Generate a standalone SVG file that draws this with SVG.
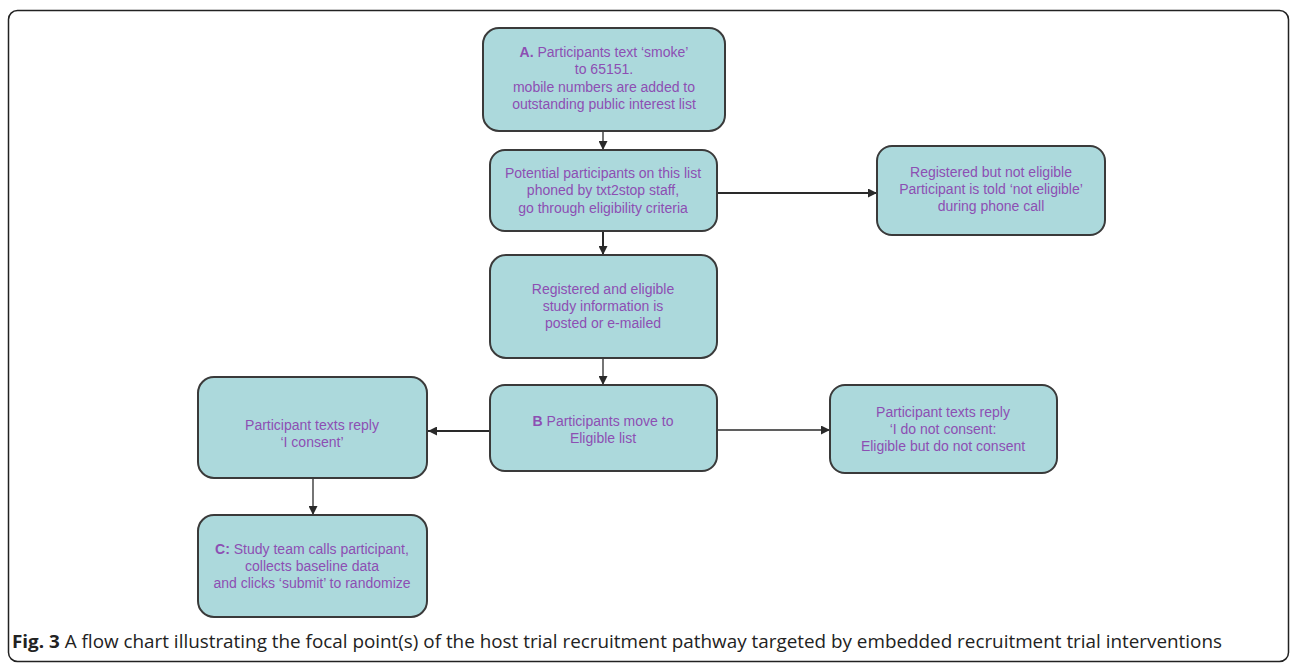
<svg xmlns="http://www.w3.org/2000/svg" width="1290" height="664" viewBox="0 0 1290 664">
<defs>
<style>
.box{fill:#acd9dc;stroke:#3a3a3a;stroke-width:2}
.t{font-family:"Liberation Sans",Arial,sans-serif;font-size:14px;fill:#8c4fb3;text-anchor:middle}
.b{font-weight:bold}
.c{stroke:#2a2a2a;fill:none}
.thin{stroke-width:1.3}
.thick{stroke-width:2}
.cap{font-family:"Open Sans","Noto Sans",sans-serif;font-size:18px;fill:#222}
</style>
<marker id="ah" viewBox="0 0 10 10" refX="10" refY="5" markerWidth="9" markerHeight="9" markerUnits="userSpaceOnUse" orient="auto">
<path d="M0,0 L10,5 L0,10 z" fill="#2a2a2a"/>
</marker>
</defs>
<rect x="0" y="0" width="1290" height="664" fill="#ffffff"/>
<rect x="8.5" y="10.5" width="1280" height="651" rx="9" fill="none" stroke="#222" stroke-width="1.5"/>

<g id="connectors">
<line class="c thin" x1="603" y1="131" x2="603" y2="150" marker-end="url(#ah)"/>
<line class="c thick" x1="717" y1="193" x2="877" y2="193" marker-end="url(#ah)"/>
<line class="c thick" x1="603" y1="231" x2="603" y2="255" marker-end="url(#ah)"/>
<line class="c thin" x1="603" y1="358" x2="603" y2="385" marker-end="url(#ah)"/>
<line class="c thick" x1="490" y1="431" x2="428" y2="431" marker-end="url(#ah)"/>
<line class="c thin" x1="717" y1="430" x2="830" y2="430" marker-end="url(#ah)"/>
<line class="c thin" x1="313" y1="478" x2="313" y2="515" marker-end="url(#ah)"/>
</g>

<g id="nodeA">
<rect class="box" x="483" y="28" width="242" height="103" rx="16"/>
<text class="t" x="604" y="57"><tspan class="b">A.</tspan> Participants text ‘smoke’</text>
<text class="t" x="604" y="74">to 65151.</text>
<text class="t" x="604" y="92">mobile numbers are added to</text>
<text class="t" x="604" y="109">outstanding public interest list</text>
</g>

<g id="nodePhoned">
<rect class="box" x="490" y="150" width="227" height="81" rx="15"/>
<text class="t" x="603" y="178">Potential participants on this list</text>
<text class="t" x="603" y="195">phoned by txt2stop staff,</text>
<text class="t" x="603" y="213">go through eligibility criteria</text>
</g>

<g id="nodeNotEligible">
<rect class="box" x="877" y="146" width="228" height="89" rx="15"/>
<text class="t" x="991" y="177">Registered but not eligible</text>
<text class="t" x="991" y="194">Participant is told ‘not eligible’</text>
<text class="t" x="991" y="211">during phone call</text>
</g>

<g id="nodeEligible">
<rect class="box" x="490" y="255" width="227" height="103" rx="16"/>
<text class="t" x="603" y="294">Registered and eligible</text>
<text class="t" x="603" y="311">study information is</text>
<text class="t" x="603" y="328">posted or e-mailed</text>
</g>

<g id="nodeB">
<rect class="box" x="490" y="385" width="227" height="86" rx="15"/>
<text class="t" x="603" y="426"><tspan class="b">B</tspan> Participants move to</text>
<text class="t" x="603" y="443">Eligible list</text>
</g>

<g id="nodeConsent">
<rect class="box" x="198" y="377" width="229" height="101" rx="16"/>
<text class="t" x="312" y="430">Participant texts reply</text>
<text class="t" x="312" y="447">‘I consent’</text>
</g>

<g id="nodeNoConsent">
<rect class="box" x="830" y="385" width="227" height="88" rx="15"/>
<text class="t" x="943" y="417">Participant texts reply</text>
<text class="t" x="943" y="434">‘I do not consent:</text>
<text class="t" x="943" y="451">Eligible but do not consent</text>
</g>

<g id="nodeC">
<rect class="box" x="198" y="515" width="229" height="102" rx="16"/>
<text class="t" x="312" y="554"><tspan class="b">C:</tspan> Study team calls participant,</text>
<text class="t" x="312" y="571">collects baseline data</text>
<text class="t" x="312" y="588">and clicks ‘submit’ to randomize</text>
</g>

<text class="cap" x="12" y="648" textLength="1210" lengthAdjust="spacingAndGlyphs"><tspan font-weight="bold">Fig. 3</tspan> A flow chart illustrating the focal point(s) of the host trial recruitment pathway targeted by embedded recruitment trial interventions</text>
</svg>
